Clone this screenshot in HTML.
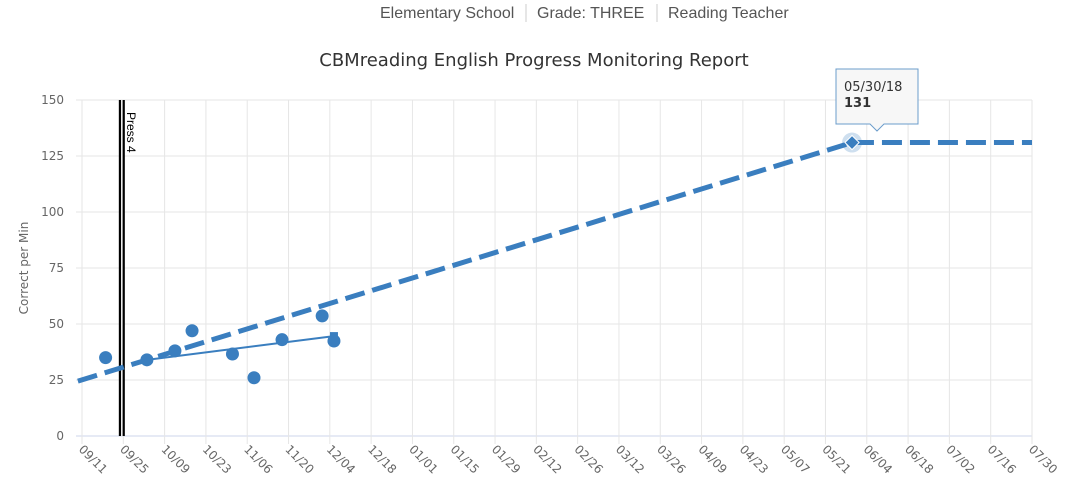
<!DOCTYPE html>
<html><head><meta charset="utf-8"><style>
html,body{margin:0;padding:0;background:#fff;width:1069px;height:496px;overflow:hidden}
svg{display:block}
</style></head><body>
<svg id="chart" width="1069" height="496" xmlns="http://www.w3.org/2000/svg">
<g font-family="Liberation Sans, sans-serif" font-size="16" fill="#555">
<text x="380" y="18">Elementary School</text>
<line x1="526" y1="4" x2="526" y2="22" stroke="#ccc"/>
<text x="537" y="18">Grade: THREE</text>
<line x1="657" y1="4" x2="657" y2="22" stroke="#ccc"/>
<text x="668" y="18">Reading Teacher</text>
</g>
<text x="534" y="66" text-anchor="middle" font-family="DejaVu Sans, sans-serif" font-size="18" fill="#333">CBMreading English Progress Monitoring Report</text>
<text transform="translate(28,268) rotate(-90)" text-anchor="middle" font-family="DejaVu Sans, sans-serif" font-size="12" fill="#666">Correct per Min</text>
<g id="grid"></g><g id="marks"></g>
</svg>
<script>
// data (days since 09/11)
const xTickLabels=["09/11","09/25","10/09","10/23","11/06","11/20","12/04","12/18","01/01","01/15","01/29","02/12","02/26","03/12","03/26","04/09","04/23","05/07","05/21","06/04","06/18","07/02","07/16","07/30"];
const yTicks=[0,25,50,75,100,125,150];
const scoreDays=[8,22,31.5,37.3,51,58.3,67.8,81.4,85.4];
const scoreValues=[35,34,38,47,36.6,26,43,53.6,42.4];
const trendDays=[22,85.4];
const trendValues=[34,44.6];
const goalDays=[-1.4,261,322];
const goalValues=[24.5,131,131];
const phaseDay=13.5;
const phaseLabel="Press 4";
const tooltipDate="05/30/18";
const tooltipValue="131";

const NS="http://www.w3.org/2000/svg";
const X0=82,X1=1032,Y0=436,Y1=100,maxDay=(xTickLabels.length-1)*14;
const xs=d=>X0+d*(X1-X0)/maxDay;
const ys=v=>Y0-v*(Y0-Y1)/150;
function mk(tag,attrs,parent,text){const e=document.createElementNS(NS,tag);for(const k in attrs)e.setAttribute(k,attrs[k]);if(text!=null)e.textContent=text;parent.appendChild(e);return e;}
const grid=document.getElementById('grid'),marks=document.getElementById('marks');
yTicks.forEach(v=>{
 const l=mk('line',{x1:X0-6,x2:X1,y1:ys(v),y2:ys(v),stroke:v===0?'#ccd6eb':'#e6e6e6'},grid);
 
 
 const t=mk('text',{x:X0-18,y:ys(v)+4,'text-anchor':'end','font-family':'DejaVu Sans, sans-serif','font-size':'12',fill:'#666'},grid,String(v));
 
 
});
xTickLabels.forEach((lab,i)=>{
 const x=xs(i*14);
 const l=mk('line',{x1:x,x2:x,y1:Y1,y2:Y0+8,stroke:'#e6e6e6'},grid);
 
 
 const t=mk('text',{transform:`translate(${x-4},${Y0+14}) rotate(45)`,'font-family':'DejaVu Sans, sans-serif','font-size':'12',fill:'#666'},grid,lab);
 
 
});
// phase line
const px=xs(phaseDay);
const pl=mk('rect',{x:px-3,y:Y1,width:6,height:Y0-Y1,fill:'#000'},marks);


const pw=mk('line',{x1:px,x2:px,y1:Y1,y2:Y0,stroke:'#fff','stroke-width':1.5},marks);


const ptx=mk('text',{transform:`translate(${px+5},${Y1+12}) rotate(90)`,'font-family':'Liberation Sans, sans-serif','font-size':'12',fill:'#000'},marks,phaseLabel);


// goal line
const gl=mk('polyline',{points:goalDays.map((d,i)=>xs(d)+','+ys(goalValues[i])).join(' '),fill:'none',stroke:'#3a7ebf','stroke-width':5,'stroke-dasharray':'20 8'},marks);


// trend
const tl=mk('polyline',{points:trendDays.map((d,i)=>xs(d)+','+ys(trendValues[i])).join(' '),fill:'none',stroke:'#3a7ebf','stroke-width':2},marks);


trendDays.forEach((d,i)=>{
 const s=mk('rect',{x:xs(d)-4,y:ys(trendValues[i])-4,width:8,height:8,fill:'#3a7ebf'},marks);
 
 
});
scoreDays.forEach((d,i)=>{
 const c=mk('circle',{cx:xs(d),cy:ys(scoreValues[i]),r:6.5,fill:'#3a7ebf'},marks);
 
 
});
// highlighted goal point + tooltip
const hx=xs(goalDays[1]),hy=ys(goalValues[1]);
const halo=mk('circle',{cx:hx,cy:hy,r:10,fill:'#3a7ebf','fill-opacity':0.25},marks);


const dm=mk('rect',{x:hx-5,y:hy-5,width:10,height:10,fill:'#3a7ebf',stroke:'#fff','stroke-width':1,transform:`rotate(45 ${hx} ${hy})`},marks);


const tg=mk('g',{},marks);


mk('path',{d:`M836 69 H918 V124 H884 L877 131 L870 124 H836 Z`,fill:'#f7f7f7',stroke:'#6b9ccb','stroke-width':1},tg);
const t1=mk('text',{x:844,y:91,'font-family':'DejaVu Sans, sans-serif','font-size':'13',fill:'#333'},tg,tooltipDate);


const t2=mk('text',{x:844,y:107,'font-family':'DejaVu Sans, sans-serif','font-size':'13','font-weight':'bold',fill:'#333'},tg,tooltipValue);


</script>
</body></html>
